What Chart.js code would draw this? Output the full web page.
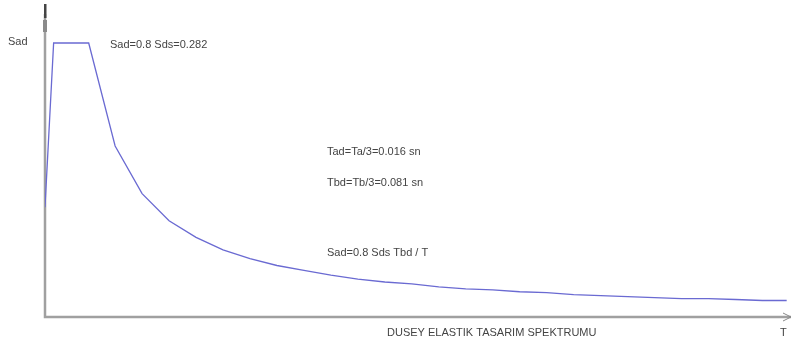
<!DOCTYPE html>
<html>
<head>
<meta charset="utf-8">
<script src="https://cdn.jsdelivr.net/npm/chart.js@4/dist/chart.umd.min.js"></script>
<style>
  html, body { margin: 0; padding: 0; background: #fff; }
  #wrap { width: 793px; height: 344px; }
</style>
</head>
<body>
<div id="wrap"><canvas id="spektrum"></canvas></div>
<script>
// periyot T (sn) ve Sad degerleri
const periyot = [0, 0.016, 0.081, 0.13, 0.18, 0.23, 0.28, 0.33, 0.38, 0.43, 0.48, 0.53, 0.58, 0.63,
  0.68, 0.73, 0.78, 0.83, 0.88, 0.93, 0.98, 1.03, 1.08, 1.13, 1.18, 1.23, 1.28, 1.33, 1.375];
const sadDeger = [0.113, 0.282, 0.282, 0.176, 0.127, 0.099, 0.082, 0.069, 0.060, 0.053, 0.048, 0.043, 0.039, 0.036,
  0.034, 0.031, 0.029, 0.028, 0.026, 0.025, 0.023, 0.022, 0.021, 0.020, 0.019, 0.019, 0.018, 0.017, 0.017];

const xMax = 1.383;
const yMax = 0.318;

const yazilar = [
  { text: 'Sad', x: 8, y: 42 },
  { text: 'Sad=0.8 Sds=0.282', x: 110, y: 45 },
  { text: 'Tad=Ta/3=0.016 sn', x: 327, y: 152 },
  { text: 'Tbd=Tb/3=0.081 sn', x: 327, y: 183 },
  { text: 'Sad=0.8 Sds Tbd / T', x: 327, y: 253 },
  { text: 'DUSEY ELASTIK TASARIM SPEKTRUMU', x: 387, y: 333 },
  { text: 'T', x: 780, y: 333 }
];

const noktalar = periyot.map((t, i) => ({ x: t, y: sadDeger[i] }));

// eksenler, oklar ve yazilar
const eksenPlugin = {
  id: 'eksenler',
  beforeDatasetsDraw(chart) {
    const ctx = chart.ctx;
    const a = chart.chartArea;
    ctx.save();
    ctx.strokeStyle = '#a0a0a0';
    ctx.lineWidth = 2.5;
    ctx.beginPath();
    ctx.moveTo(a.left, a.top + 6);
    ctx.lineTo(a.left, a.bottom);
    ctx.lineTo(a.right, a.bottom);
    ctx.stroke();
    // y ekseni ok ucu
    ctx.fillStyle = '#8a8a8a';
    ctx.fillRect(a.left - 2, a.top + 12, 4, 12);
    ctx.fillStyle = '#444';
    ctx.fillRect(a.left - 1, a.top - 4, 2.5, 14);
    // x ekseni ok ucu
    ctx.strokeStyle = '#888';
    ctx.lineWidth = 1;
    ctx.beginPath();
    ctx.moveTo(a.right - 8, a.bottom - 4);
    ctx.lineTo(a.right, a.bottom);
    ctx.lineTo(a.right - 8, a.bottom + 4);
    ctx.stroke();
    ctx.restore();
  },
  afterDraw(chart) {
    const ctx = chart.ctx;
    ctx.save();
    ctx.fillStyle = '#444';
    ctx.font = '11px "Liberation Sans", sans-serif';
    ctx.textBaseline = 'middle';
    yazilar.forEach(y => ctx.fillText(y.text, y.x, y.y));
    ctx.restore();
  }
};

new Chart(document.getElementById('spektrum'), {
  type: 'line',
  data: {
    datasets: [{
      label: 'Sad',
      data: noktalar,
      borderColor: '#6a6ad2',
      borderWidth: 1.3,
      pointRadius: 0,
      tension: 0,
      fill: false
    }]
  },
  options: {
    responsive: true,
    maintainAspectRatio: false,
    animation: false,
    layout: { padding: { left: 45, right: 2, top: 8, bottom: 27 } },
    plugins: { legend: { display: false }, tooltip: { enabled: false } },
    scales: {
      x: { type: 'linear', min: 0, max: xMax, display: false },
      y: { min: 0, max: yMax, display: false }
    }
  },
  plugins: [eksenPlugin]
});
</script>
</body>
</html>
